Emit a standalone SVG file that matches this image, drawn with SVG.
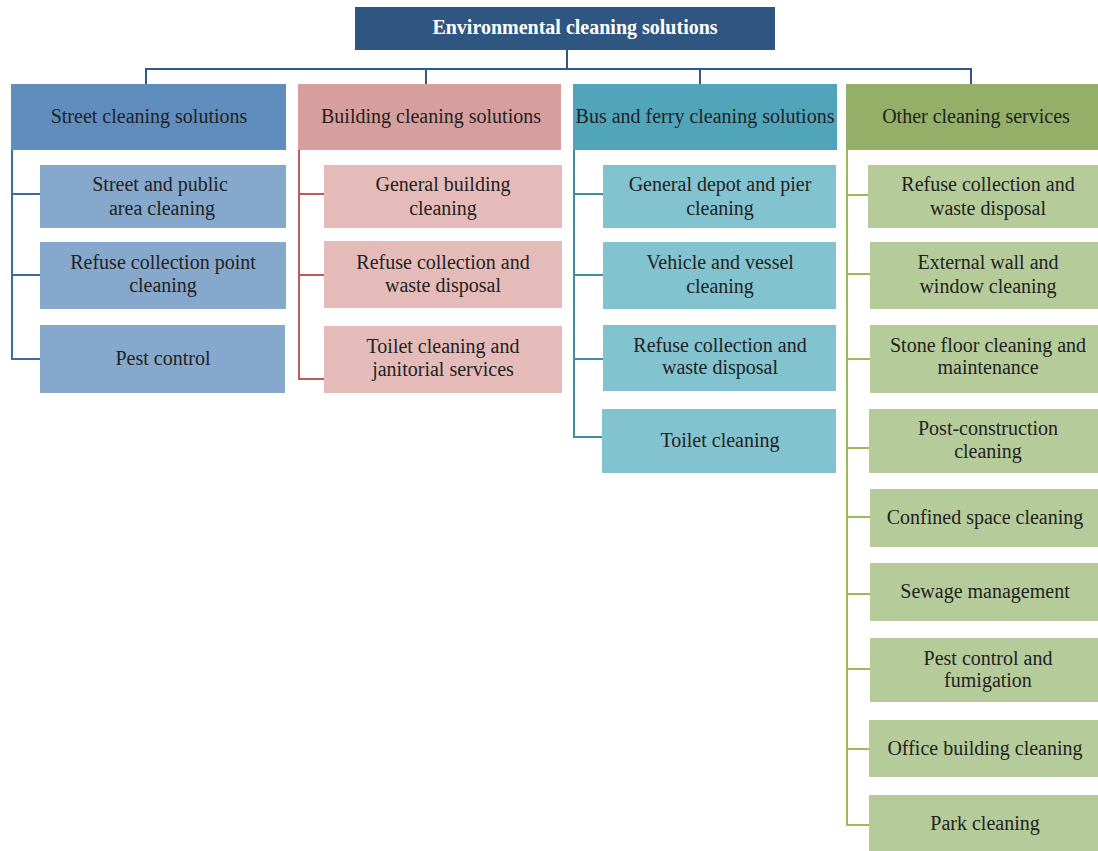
<svg xmlns="http://www.w3.org/2000/svg" width="1098" height="851" viewBox="0 0 1098 851">
<style>
text{font-family:"Liberation Serif","Times New Roman",serif;font-size:20px;fill:#222;text-anchor:middle}
.root{fill:#2F5680}
text.rt{fill:#fff;font-weight:bold;font-size:20px}
.h1{fill:#5F8DBE}.c1{fill:#86A8CC}
.h2{fill:#D69E9D}.c2{fill:#E5BBBA}
.h3{fill:#50A5BA}.c3{fill:#83C3CF}
.h4{fill:#93AF68}.c4{fill:#B6CB9A}
.l0{stroke:#2F5A87;stroke-width:2;fill:none}
.l1{stroke:#3F6A9C;stroke-width:2;fill:none}
.l2{stroke:#C0595A;stroke-width:2;fill:none}
.l3{stroke:#3E8DA0;stroke-width:2;fill:none}
.l4{stroke:#9BBB59;stroke-width:2;fill:none}
</style>
<g id="connectors">
<path class="l0" d="M567 50V69M146 90V69H971V84M426 69V84M700 69V84"/>
<path class="l1" d="M12 150V359H40M12 194H40M12 275H40"/>
<path class="l2" d="M299 150V379H324M299 194H324M299 275H324"/>
<path class="l3" d="M574 150V437H603M574 194H603M574 275H603M574 359H603"/>
<path class="l4" d="M847 150V825H869M847 195H868M847 274H870M847 359H870M847 448H869M847 517H870M847 594H870M847 669H870M847 749H870"/>
</g>
<g id="root"><rect class="root" x="355" y="7" width="420" height="43"/><text class="rt" x="575" y="34">Environmental cleaning solutions</text></g>
<g id="street"><rect class="h1" x="11" y="84" width="275" height="66"/><text x="149" y="123">Street cleaning solutions</text></g>
<g id="building"><rect class="h2" x="298" y="84" width="263" height="66"/><text x="431" y="123">Building cleaning solutions</text></g>
<g id="bus"><rect class="h3" x="573" y="84" width="264" height="66"/><text x="705" y="123">Bus and ferry cleaning solutions</text></g>
<g id="other"><rect class="h4" x="846" y="84" width="252" height="66"/><text x="976" y="123">Other cleaning services</text></g>

<g id="s1"><rect class="c1" x="40" y="165" width="246" height="63"/><text x="160" y="191">Street and public</text><text x="162" y="215">area cleaning</text></g>
<g id="s2"><rect class="c1" x="40" y="242" width="246" height="67"/><text x="163" y="269">Refuse collection point</text><text x="163" y="292">cleaning</text></g>
<g id="s3"><rect class="c1" x="40" y="325" width="245" height="68"/><text x="163" y="365">Pest control</text></g>

<g id="b1"><rect class="c2" x="324" y="165" width="238" height="63"/><text x="443" y="191">General building</text><text x="443" y="215">cleaning</text></g>
<g id="b2"><rect class="c2" x="324" y="241" width="238" height="67"/><text x="443" y="269">Refuse collection and</text><text x="443" y="292">waste disposal</text></g>
<g id="b3"><rect class="c2" x="324" y="326" width="238" height="67"/><text x="443" y="353">Toilet cleaning and</text><text x="443" y="376">janitorial services</text></g>

<g id="f1"><rect class="c3" x="603" y="165" width="233" height="63"/><text x="720" y="191">General depot and pier</text><text x="720" y="215">cleaning</text></g>
<g id="f2"><rect class="c3" x="603" y="242" width="233" height="67"/><text x="720" y="269">Vehicle and vessel</text><text x="720" y="293">cleaning</text></g>
<g id="f3"><rect class="c3" x="603" y="325" width="233" height="66"/><text x="720" y="352">Refuse collection and</text><text x="720" y="374">waste disposal</text></g>
<g id="f4"><rect class="c3" x="602" y="409" width="234" height="64"/><text x="720" y="447">Toilet cleaning</text></g>

<g id="o1"><rect class="c4" x="868" y="165" width="230" height="63"/><text x="988" y="191">Refuse collection and</text><text x="988" y="215">waste disposal</text></g>
<g id="o2"><rect class="c4" x="870" y="242" width="228" height="67"/><text x="988" y="269">External wall and</text><text x="988" y="293">window cleaning</text></g>
<g id="o3"><rect class="c4" x="870" y="325" width="228" height="68"/><text x="988" y="352">Stone floor cleaning and</text><text x="988" y="374">maintenance</text></g>
<g id="o4"><rect class="c4" x="869" y="409" width="229" height="64"/><text x="988" y="435">Post-construction</text><text x="988" y="458">cleaning</text></g>
<g id="o5"><rect class="c4" x="870" y="489" width="228" height="58"/><text x="985" y="524">Confined space cleaning</text></g>
<g id="o6"><rect class="c4" x="870" y="563" width="228" height="58"/><text x="985" y="598">Sewage management</text></g>
<g id="o7"><rect class="c4" x="870" y="638" width="228" height="64"/><text x="988" y="665">Pest control and</text><text x="988" y="687">fumigation</text></g>
<g id="o8"><rect class="c4" x="869" y="720" width="229" height="57"/><text x="985" y="755">Office building cleaning</text></g>
<g id="o9"><rect class="c4" x="869" y="795" width="229" height="56"/><text x="985" y="830">Park cleaning</text></g>
</svg>
